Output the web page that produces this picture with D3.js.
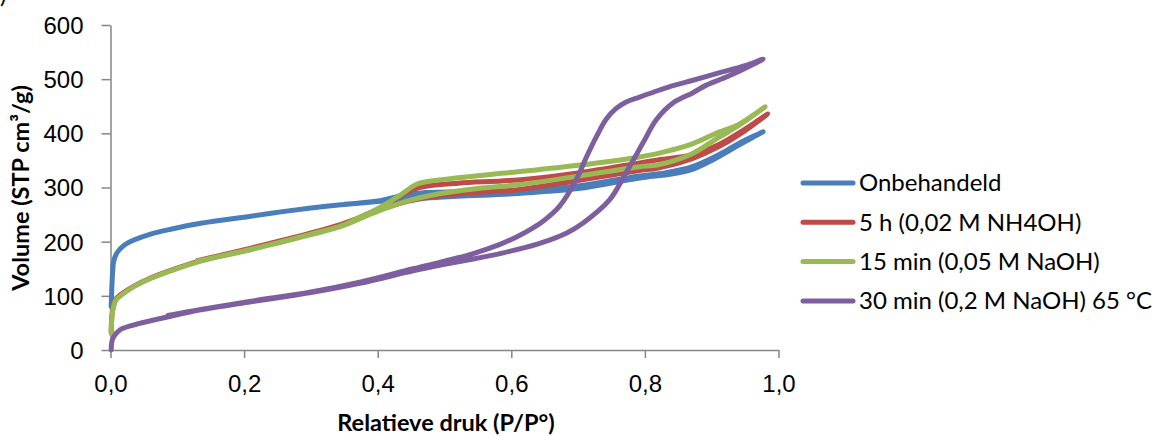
<!DOCTYPE html>
<html>
<head>
<meta charset="utf-8">
<script src="https://cdn.jsdelivr.net/npm/d3@7"></script>
<style>
  body { margin: 0; background: #fff; }
  svg { display: block; font-family: Lato, "Open Sans", sans-serif; }
  .axis path, .axis line { stroke: #868686; stroke-width: 1.5; }
  .axis text { font-size: 24px; fill: #000; }
  .title { font-size: 23.5px; font-weight: bold; fill: #000; }
  .legend text { font-size: 24px; fill: #000; }
  .series { fill: none; stroke-width: 5; stroke-linecap: round; stroke-linejoin: round; }
</style>
</head>
<body>
<svg id="chart" width="1154" height="436"></svg>
<script>
// isotherms: adsorption branch then desorption branch, [P/P0, volume]
const seriesNames = ['Onbehandeld', '5 h (0,02 M NH4OH)', '15 min (0,05 M NaOH)', '30 min (0,2 M NaOH) 65 °C'];
const seriesColors = ['#4a7ebb', '#be4b48', '#98b954', '#7d5fa0'];

const onbehandeld = [
  [0.001, 80], [0.003, 140], [0.005, 165], [0.01, 180], [0.02, 193], [0.035, 203], [0.06, 214],
  [0.09, 223], [0.135, 234], [0.21, 247], [0.255, 255], [0.30, 262], [0.345, 268], [0.40, 274],
  [0.45, 279], [0.52, 284], [0.61, 289], [0.70, 298], [0.79, 317], [0.84, 325], [0.87, 333],
  [0.90, 350], [0.94, 378], [0.977, 403],
  [0.94, 381], [0.91, 360], [0.87, 338], [0.83, 327], [0.79, 321], [0.70, 303], [0.61, 294],
  [0.52, 292], [0.465, 290], [0.435, 285], [0.40, 275], [0.35, 269]
];
const nh4oh = [
  [0.001, 33], [0.003, 73], [0.008, 94], [0.015, 102], [0.035, 118], [0.06, 133], [0.09, 147],
  [0.135, 165], [0.21, 187], [0.255, 201], [0.30, 215], [0.345, 230], [0.39, 254], [0.42, 266],
  [0.45, 276], [0.49, 284], [0.55, 291], [0.61, 296], [0.70, 313], [0.79, 331], [0.82, 336],
  [0.87, 353], [0.91, 375], [0.95, 405], [0.984, 436],
  [0.95, 408], [0.91, 379], [0.87, 360], [0.82, 351], [0.79, 345], [0.70, 327], [0.61, 314],
  [0.52, 308], [0.47, 302], [0.455, 297], [0.43, 282], [0.40, 258], [0.37, 243], [0.345, 232],
  [0.30, 216], [0.21, 188], [0.13, 165]
];
const naoh15 = [
  [0.001, 30], [0.003, 70], [0.008, 92], [0.015, 100], [0.035, 117], [0.06, 132], [0.09, 146],
  [0.135, 164], [0.21, 185], [0.255, 199], [0.30, 213], [0.345, 228], [0.39, 251], [0.42, 265],
  [0.45, 277], [0.49, 288], [0.55, 298], [0.61, 305], [0.70, 321], [0.79, 338], [0.82, 342],
  [0.87, 362], [0.91, 392], [0.94, 414], [0.98, 449],
  [0.94, 416], [0.91, 402], [0.87, 380], [0.82, 363], [0.79, 356], [0.70, 341], [0.61, 329],
  [0.52, 318], [0.475, 311], [0.458, 306], [0.435, 287], [0.40, 261], [0.37, 243], [0.345, 229],
  [0.30, 214], [0.21, 186], [0.13, 164]
];
const naoh30 = [
  [0.001, 0], [0.002, 15], [0.005, 25], [0.014, 37], [0.034, 46], [0.06, 54], [0.085, 61],
  [0.135, 74], [0.21, 89], [0.30, 106], [0.373, 123], [0.453, 146], [0.50, 158], [0.543, 168],
  [0.583, 178], [0.62, 189], [0.657, 203], [0.683, 216], [0.707, 234], [0.747, 277], [0.772, 328],
  [0.797, 382], [0.817, 425], [0.842, 456], [0.872, 475], [0.892, 489], [0.922, 504],
  [0.945, 517], [0.977, 537],
  [0.95, 525], [0.912, 512], [0.872, 498], [0.842, 488], [0.822, 480], [0.792, 467], [0.772, 458],
  [0.757, 446], [0.742, 426], [0.727, 393], [0.712, 355], [0.697, 314], [0.672, 265],
  [0.65, 240], [0.632, 225], [0.61, 210], [0.583, 195], [0.543, 178], [0.50, 164], [0.453, 150],
  [0.373, 125], [0.30, 107], [0.21, 90], [0.135, 75], [0.086, 64]
];
const seriesData = [onbehandeld, nh4oh, naoh15, naoh30];

const xTicks = [0, 0.2, 0.4, 0.6, 0.8, 1.0];
const yTicks = [0, 100, 200, 300, 400, 500, 600];

const svg = d3.select('#chart');
const x = d3.scaleLinear().domain([0, 1]).range([110.5, 778.5]);
const y = d3.scaleLinear().domain([0, 600]).range([350, 25]);

const comma = d => d3.format('.1f')(d).replace('.', ',');

svg.append('g').attr('class', 'x axis')
    .attr('transform', 'translate(0,350)')
    .call(d3.axisBottom(x).tickValues(xTicks).tickFormat(comma).tickSize(8).tickSizeOuter(0).tickPadding(12));
svg.append('g').attr('class', 'y axis')
    .attr('transform', 'translate(110.5,0)')
    .call(d3.axisLeft(y).tickValues(yTicks).tickSize(9).tickSizeOuter(0).tickPadding(18));

svg.selectAll('.axis text').attr('dy', '0.35em');
svg.select('.x.axis').selectAll('text').attr('dy', '0.9em');

// clipped panel label from the source figure
svg.append('text')
    .attr('x', 0).attr('y', 3)
    .attr('font-size', 24)
    .text(')');

svg.append('text').attr('class', 'title')
    .attr('x', 446).attr('y', 431)
    .attr('text-anchor', 'middle')
    .text('Relatieve druk (P/P°)');
svg.append('text').attr('class', 'title')
    .attr('transform', 'translate(29,188) rotate(-90)')
    .attr('text-anchor', 'middle')
    .text('Volume (STP cm³/g)');

const line = d3.line()
    .x(d => x(d[0]))
    .y(d => y(d[1]))
    .curve(d3.curveCatmullRom.alpha(0.5));

svg.append('g').selectAll('path')
    .data(seriesData)
    .join('path')
    .attr('class', 'series')
    .attr('stroke', (d, i) => seriesColors[i])
    .attr('d', line);

// legend
const legend = svg.append('g').attr('class', 'legend')
    .selectAll('g')
    .data(seriesNames)
    .join('g')
    .attr('transform', (d, i) => 'translate(0,' + (183 + i * 39.3) + ')');
legend.append('line')
    .attr('x1', 803).attr('x2', 853)
    .attr('stroke', (d, i) => seriesColors[i])
    .attr('stroke-width', 5)
    .attr('stroke-linecap', 'round');
legend.append('text')
    .attr('x', 859).attr('dy', '0.35em')
    .text(d => d);
</script>
</body>
</html>
